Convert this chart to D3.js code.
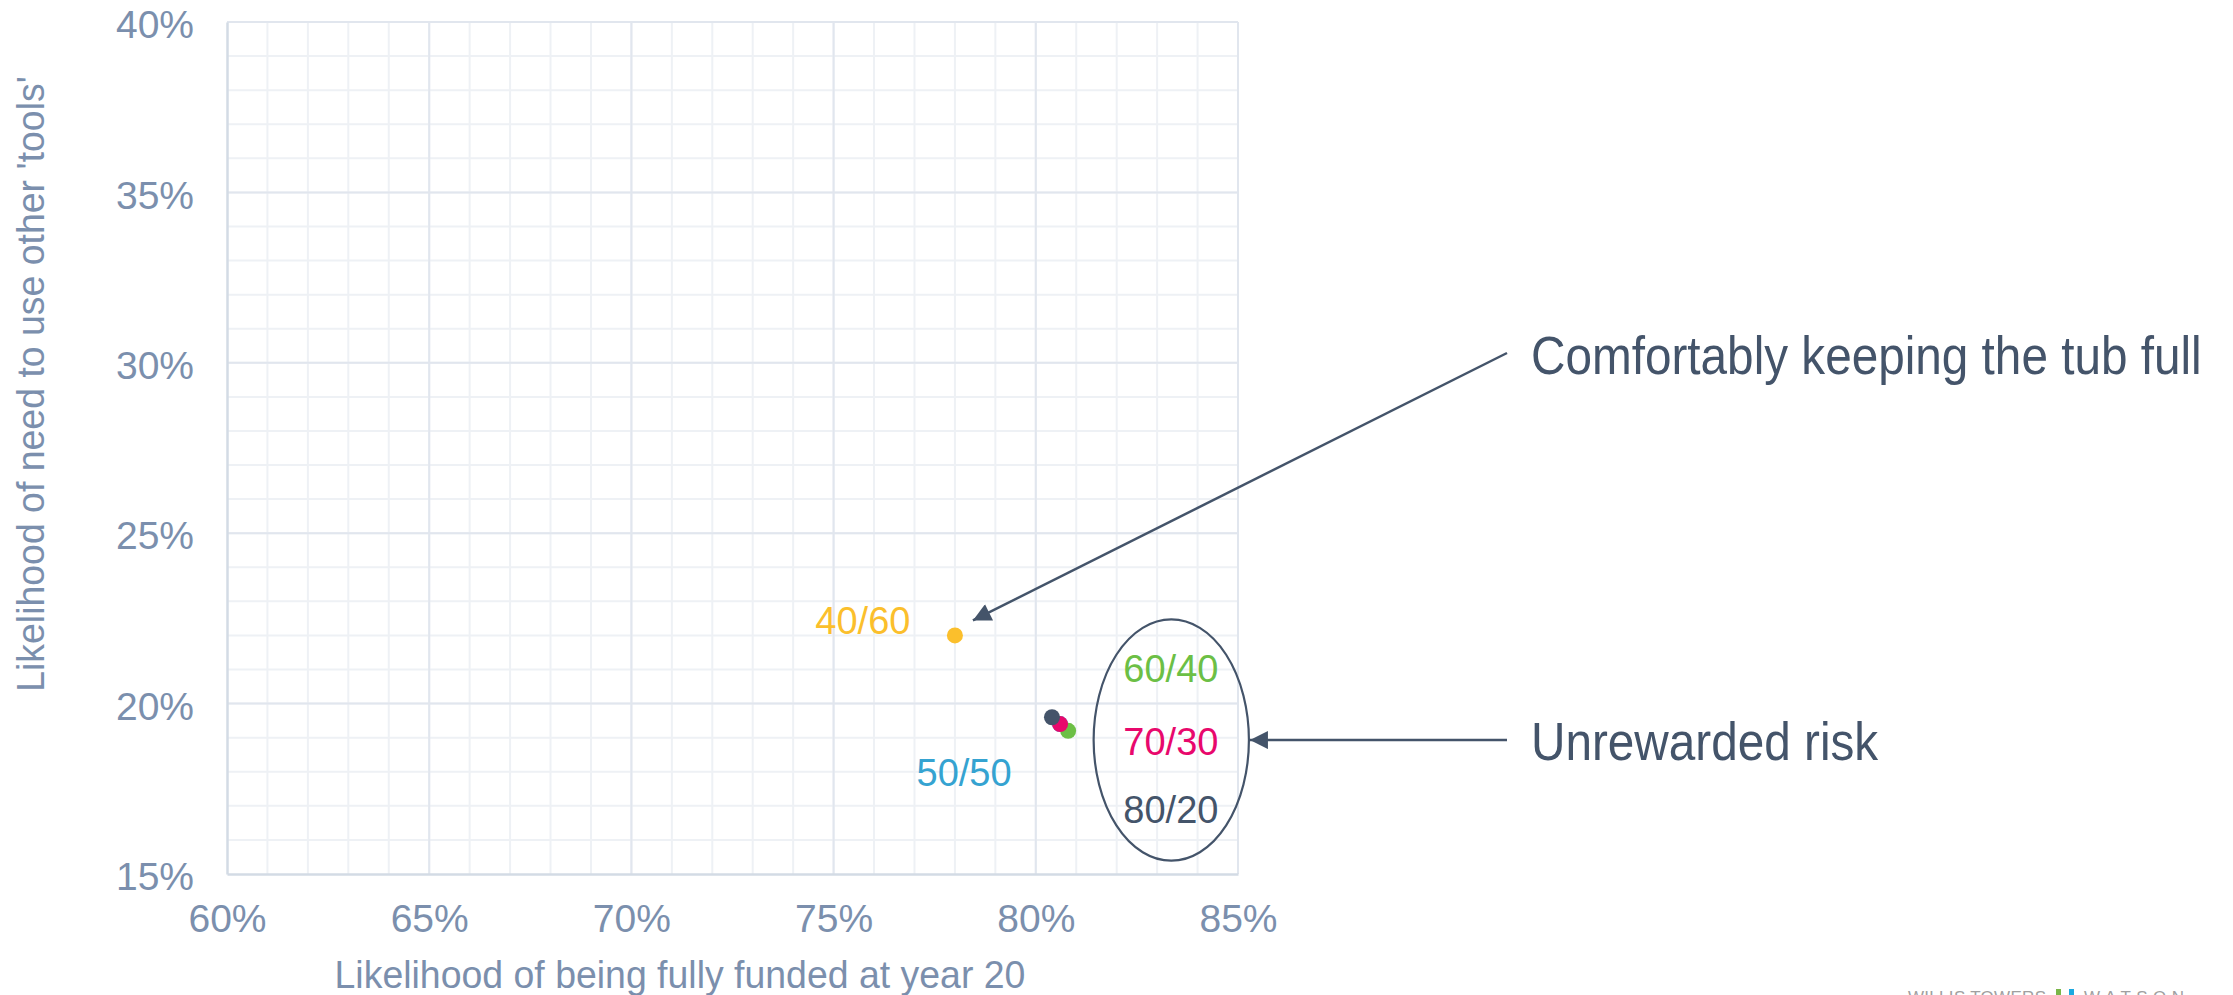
<!DOCTYPE html>
<html>
<head>
<meta charset="utf-8">
<script src="https://cdn.jsdelivr.net/npm/d3@7"></script>
<style>
  body { margin: 0; background: #ffffff; }
  svg { display: block; font-family: "Liberation Sans", Arial, sans-serif; }
</style>
</head>
<body>
<div id="chart"></div>
<script>
"use strict";

// Portfolio mixes (growth/defensive)
const mixLabels = ["40/60", "50/50", "60/40", "70/30", "80/20"];
const fundedProb = [78.0, 80.6, 80.8, 80.6, 80.4];   // x: likelihood of being fully funded at year 20 (%)
const toolsProb = [22.0, 19.4, 19.2, 19.4, 19.6];    // y: likelihood of need to use other 'tools' (%)
const mixColors = ["#fbbf2c", "#35a3d1", "#6cbf45", "#e8086c", "#44546a"];

const xTicks = [60, 65, 70, 75, 80, 85];
const yTicks = [15, 20, 25, 30, 35, 40];

// Label anchors (data units) for each mix
const labelX = [76.9, 77.05, 83.34, 83.34, 83.34];
const labelY = [22.04, 17.58, 20.64, 18.49, 16.49];
const labelAnchor = ["end", "start", "middle", "middle", "middle"];

const annotations = ["Comfortably keeping the tub full", "Unrewarded risk"];

const W = 2233, H = 995;
const margin = { top: 22, right: 995, bottom: 121, left: 227 };
const width = W - margin.left - margin.right,
      height = H - margin.top - margin.bottom;

const tickColor = "#7b8fad";
const noteColor = "#44546a";

const svg = d3.select("#chart")
    .append("svg")
    .attr("width", W)
    .attr("height", H);

svg.append("defs").append("marker")
    .attr("id", "arrow")
    .attr("viewBox", "0 0 10 10")
    .attr("refX", 10)
    .attr("refY", 5)
    .attr("markerWidth", 22)
    .attr("markerHeight", 18)
    .attr("markerUnits", "userSpaceOnUse")
    .attr("orient", "auto")
    .append("path")
    .attr("d", "M0,0 L10,5 L0,10 Z")
    .attr("fill", noteColor);

const g = svg.append("g")
    .attr("transform", "translate(" + margin.left + "," + margin.top + ")");

const x = d3.scaleLinear().domain([60, 85]).range([0, width]);
const y = d3.scaleLinear().domain([15, 40]).range([height, 0]);

// minor gridlines every 1%
g.append("g")
    .selectAll("line")
    .data(d3.range(61, 85))
    .join("line")
    .attr("x1", d => x(d)).attr("x2", d => x(d))
    .attr("y1", 0).attr("y2", height)
    .attr("stroke", "#eef1f5").attr("stroke-width", 2);

g.append("g")
    .selectAll("line")
    .data(d3.range(16, 40))
    .join("line")
    .attr("x1", 0).attr("x2", width)
    .attr("y1", d => y(d)).attr("y2", d => y(d))
    .attr("stroke", "#eef1f5").attr("stroke-width", 2);

// major gridlines
g.append("g")
    .selectAll("line")
    .data(xTicks.slice(1))
    .join("line")
    .attr("x1", d => x(d)).attr("x2", d => x(d))
    .attr("y1", 0).attr("y2", height)
    .attr("stroke", "#e1e6ee").attr("stroke-width", 2);

g.append("g")
    .selectAll("line")
    .data(yTicks.slice(1))
    .join("line")
    .attr("x1", 0).attr("x2", width)
    .attr("y1", d => y(d)).attr("y2", d => y(d))
    .attr("stroke", "#e1e6ee").attr("stroke-width", 2);

// X axis
const xAxis = g.append("g")
    .attr("transform", "translate(0," + height + ")")
    .call(d3.axisBottom(x).tickValues(xTicks).tickFormat(d => d + "%").tickSize(0).tickPadding(30));
xAxis.select(".domain").attr("stroke", "#d3dbe5").attr("stroke-width", 2.5);
xAxis.selectAll("text")
    .attr("fill", tickColor)
    .style("font-size", "39px")
    .attr("dy", "0.71em");

// Y axis
const yAxis = g.append("g")
    .call(d3.axisLeft(y).tickValues(yTicks).tickFormat(d => d + "%").tickSize(0).tickPadding(33));
yAxis.select(".domain").attr("stroke", "#d3dbe5").attr("stroke-width", 2.5);
yAxis.selectAll("text")
    .attr("fill", tickColor)
    .style("font-size", "39px")
    .attr("dy", "0.4em");

// axis titles
svg.append("text")
    .attr("transform", "translate(680,988) scale(0.96,1)")
    .attr("text-anchor", "middle")
    .attr("fill", tickColor)
    .style("font-size", "39px")
    .text("Likelihood of being fully funded at year 20");

svg.append("text")
    .attr("transform", "translate(44,384) rotate(-90) scale(0.96,1)")
    .attr("text-anchor", "middle")
    .attr("fill", tickColor)
    .style("font-size", "39px")
    .text("Likelihood of need to use other 'tools'");

// points
g.append("g")
    .selectAll("circle")
    .data(mixLabels)
    .join("circle")
    .attr("cx", (d, i) => x(fundedProb[i]))
    .attr("cy", (d, i) => y(toolsProb[i]))
    .attr("r", 8)
    .attr("fill", (d, i) => mixColors[i]);

// point labels
g.append("g")
    .selectAll("text")
    .data(mixLabels)
    .join("text")
    .attr("x", (d, i) => x(labelX[i]))
    .attr("y", (d, i) => y(labelY[i]))
    .attr("text-anchor", (d, i) => labelAnchor[i])
    .attr("fill", (d, i) => mixColors[i])
    .style("font-size", "38px")
    .text(d => d);

// ellipse around the unrewarded-risk group
const ellCx = 83.35, ellCy = 18.93, ellRx = 1.92, ellRy = 3.54;
g.append("ellipse")
    .attr("cx", x(ellCx))
    .attr("cy", y(ellCy))
    .attr("rx", x(60 + ellRx) - x(60))
    .attr("ry", y(15) - y(15 + ellRy))
    .attr("fill", "none")
    .attr("stroke", noteColor)
    .attr("stroke-width", 2.2);

// arrow 1 -> 40/60
g.append("line")
    .attr("x1", 1507 - margin.left).attr("y1", 353 - margin.top)
    .attr("x2", x(78.0) + 18).attr("y2", y(22.0) - 15)
    .attr("stroke", noteColor).attr("stroke-width", 2.5)
    .attr("marker-end", "url(#arrow)");

// arrow 2 -> ellipse
g.append("line")
    .attr("x1", 1507 - margin.left).attr("y1", y(ellCy))
    .attr("x2", x(ellCx + ellRx) + 1).attr("y2", y(ellCy))
    .attr("stroke", noteColor).attr("stroke-width", 2.5)
    .attr("marker-end", "url(#arrow)");

// annotation texts (slightly condensed like the original)
svg.append("text")
    .attr("transform", "translate(1531,374) scale(0.9,1)")
    .attr("fill", noteColor)
    .style("font-size", "53px")
    .text(annotations[0]);

svg.append("text")
    .attr("transform", "translate(1531,760) scale(0.9,1)")
    .attr("fill", noteColor)
    .style("font-size", "53px")
    .text(annotations[1]);

// logo peeking at the bottom edge
const logo = svg.append("g").attr("transform", "translate(1908,989)");
logo.append("text").attr("x", 0).attr("y", 14)
    .attr("fill", "#a0a0a0").style("font-size", "17px")
    .attr("textLength", 138).attr("lengthAdjust", "spacing")
    .text("WILLIS TOWERS");
logo.append("rect").attr("x", 148).attr("y", 0).attr("width", 5).attr("height", 14).attr("fill", "#7ab648");
logo.append("rect").attr("x", 161).attr("y", 0).attr("width", 5).attr("height", 14).attr("fill", "#1ba9e0");
logo.append("text").attr("x", 176).attr("y", 14)
    .attr("fill", "#a0a0a0").style("font-size", "17px")
    .attr("textLength", 100).attr("lengthAdjust", "spacing")
    .text("WATSON");
</script>
</body>
</html>
